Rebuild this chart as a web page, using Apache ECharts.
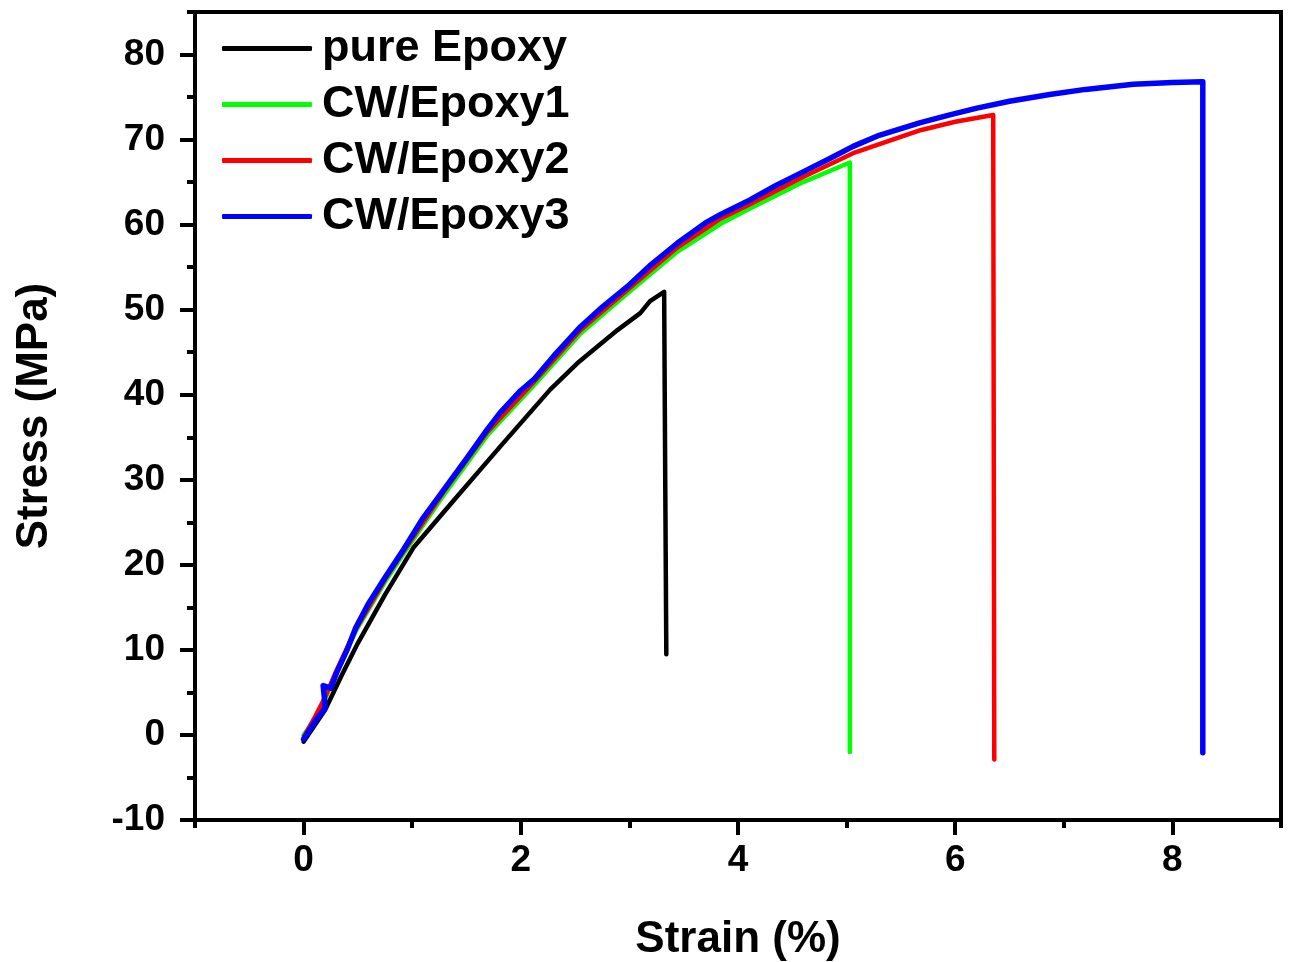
<!DOCTYPE html>
<html lang="en">
<head>
    <meta charset="UTF-8">
    <title>Stress-strain</title>
    <script src="https://cdn.jsdelivr.net/npm/echarts@6/dist/echarts.min.js"></script>
    <style>
        html, body { margin: 0; padding: 0; background: #fff; }
        #chart { width: 1290px; height: 962px; }
    </style>
</head>
<body>
<div id="chart"></div>
<script type="text/javascript">
    // values (strain %, stress MPa)
    var seriesNames = ['pure Epoxy', 'CW/Epoxy1', 'CW/Epoxy2', 'CW/Epoxy3'];
    var seriesColors = ['#000000', '#00ff00', '#ff0000', '#0000ff'];

    var pureStrain = [0, 0.2, 0.35, 0.5, 0.75, 1.01, 1.35, 1.81, 2.27, 2.52, 2.89, 3.1, 3.19, 3.32, 3.33, 3.34];
    var pureStress = [-0.8, 3, 7, 10.8, 16.5, 22, 27.1, 33.9, 40.6, 43.7, 47.6, 49.6, 51, 52.1, 30, 9.5];

    var cw1Strain = [0, 0.1, 0.2, 0.3, 0.48, 0.75, 0.92, 1.29, 1.69, 2.12, 2.55, 2.98, 3.44, 3.84, 4.11, 4.6, 5.03, 5.03];
    var cw1Stress = [0, 1.8, 4.3, 7.3, 12.2, 18, 21.3, 28.2, 35.2, 41.1, 47.2, 51.9, 56.8, 60.1, 61.9, 65, 67.3, -2.0];

    var cw2Strain = [0, 0.1, 0.2, 0.3, 0.48, 0.75, 0.92, 1.29, 1.69, 2.12, 2.55, 2.98, 3.44, 3.84, 4.11, 4.6, 5.06, 5.68, 6.0, 6.35, 6.36];
    var cw2Stress = [-0.3, 2, 4.5, 7.5, 12.4, 18.3, 21.6, 28.6, 35.6, 41.5, 47.6, 52.3, 57.3, 60.7, 62.4, 65.6, 68.4, 71.1, 72.1, 72.9, -2.9];

    var cw3Strain = [0, 0.1, 0.2, 0.18, 0.25, 0.3, 0.4, 0.48, 0.6, 0.75, 0.92, 1.1, 1.29, 1.5, 1.69, 1.81, 2.0, 2.12, 2.3, 2.55, 2.75, 2.98, 3.2, 3.44, 3.7, 3.84, 4.11, 4.35, 4.6, 4.85, 5.06, 5.3, 5.68, 5.95, 6.2, 6.5, 6.87, 7.2, 7.64, 8.0, 8.28, 8.28];
    var cw3Stress = [-0.5, 1.5, 3.2, 5.8, 5.5, 7.2, 10, 12.6, 15.5, 18.5, 21.8, 25.5, 28.8, 32.5, 35.9, 37.9, 40.5, 41.8, 44.5, 48, 50.3, 52.7, 55.3, 57.8, 60.2, 61.2, 62.9, 64.6, 66.2, 67.8, 69.2, 70.5, 72, 72.9, 73.7, 74.5, 75.3, 75.9, 76.5, 76.7, 76.8, -2.1];

    var xLabels = [0, 2, 4, 6, 8];
    var yLabels = [-10, 0, 10, 20, 30, 40, 50, 60, 70, 80];

    function pairs(xs, ys) {
        return xs.map(function (x, i) { return [x, ys[i]]; });
    }

    var font = 'Liberation Sans, Arial, sans-serif';
    var allStrain = [pureStrain, cw1Strain, cw2Strain, cw3Strain];
    var allStress = [pureStress, cw1Stress, cw2Stress, cw3Stress];

    var series = seriesNames.map(function (name, i) {
        return {
            name: name,
            type: 'line',
            xAxisIndex: 0,
            yAxisIndex: 0,
            symbol: 'none',
            smooth: false,
            lineStyle: {color: seriesColors[i], width: i === 3 ? 5.5 : 4.5, cap: 'round', join: 'round'},
            itemStyle: {color: seriesColors[i]},
            data: pairs(allStrain[i], allStress[i]),
            z: 2 + i
        };
    });

    var tickLine = {color: '#000', width: 4};

    var myChart = echarts.init(document.getElementById('chart'), null, {renderer: 'canvas'});
    var option = {
        backgroundColor: '#fff',
        animation: false,
        grid: {
            left: 195, right: 9, top: 12, bottom: 142,
            outerBoundsMode: 'none',
            containLabel: false,
            show: true, borderColor: '#000', borderWidth: 4
        },
        legend: {
            orient: 'vertical',
            left: 222,
            top: 26,
            padding: 0,
            icon: 'roundRect',
            itemWidth: 90,
            itemHeight: 5,
            itemGap: 11,
            data: seriesNames,
            textStyle: {
                fontFamily: font, fontWeight: 'bold', fontSize: 45,
                lineHeight: 44.5, color: '#000', padding: [0, 0, 0, 5]
            }
        },
        xAxis: [{
            type: 'value',
            min: -1, max: 9, interval: 1,
            position: 'bottom',
            axisLine: {onZero: false, lineStyle: tickLine},
            axisTick: {length: 8, lineStyle: tickLine},
            axisLabel: {show: false},
            splitLine: {show: false}
        }, {
            type: 'value',
            min: -1, max: 9,
            position: 'bottom',
            name: 'Strain (%)',
            nameLocation: 'middle',
            nameGap: 98,
            nameTextStyle: {fontFamily: font, fontWeight: 'bold', fontSize: 44, color: '#000'},
            axisLine: {show: false, onZero: false},
            axisTick: {show: true, customValues: xLabels, length: 15, lineStyle: tickLine},
            axisLabel: {
                customValues: xLabels, margin: 22,
                fontFamily: font, fontWeight: 'bold', fontSize: 37, color: '#000'
            },
            splitLine: {show: false}
        }],
        yAxis: [{
            type: 'value',
            min: -10, max: 85, interval: 5,
            position: 'left',
            axisLine: {onZero: false, lineStyle: tickLine},
            axisTick: {length: 8, lineStyle: tickLine},
            axisLabel: {show: false},
            splitLine: {show: false}
        }, {
            type: 'value',
            min: -10, max: 85,
            position: 'left',
            name: 'Stress (MPa)',
            nameLocation: 'middle',
            nameGap: 138,
            nameRotate: 90,
            nameTextStyle: {fontFamily: font, fontWeight: 'bold', fontSize: 44, color: '#000'},
            axisLine: {show: false, onZero: false},
            axisTick: {show: true, customValues: yLabels, length: 15, lineStyle: tickLine},
            axisLabel: {
                customValues: yLabels, margin: 30,
                fontFamily: font, fontWeight: 'bold', fontSize: 37, color: '#000'
            },
            splitLine: {show: false}
        }],
        series: series
    };
    myChart.setOption(option);
</script>
</body>
</html>
